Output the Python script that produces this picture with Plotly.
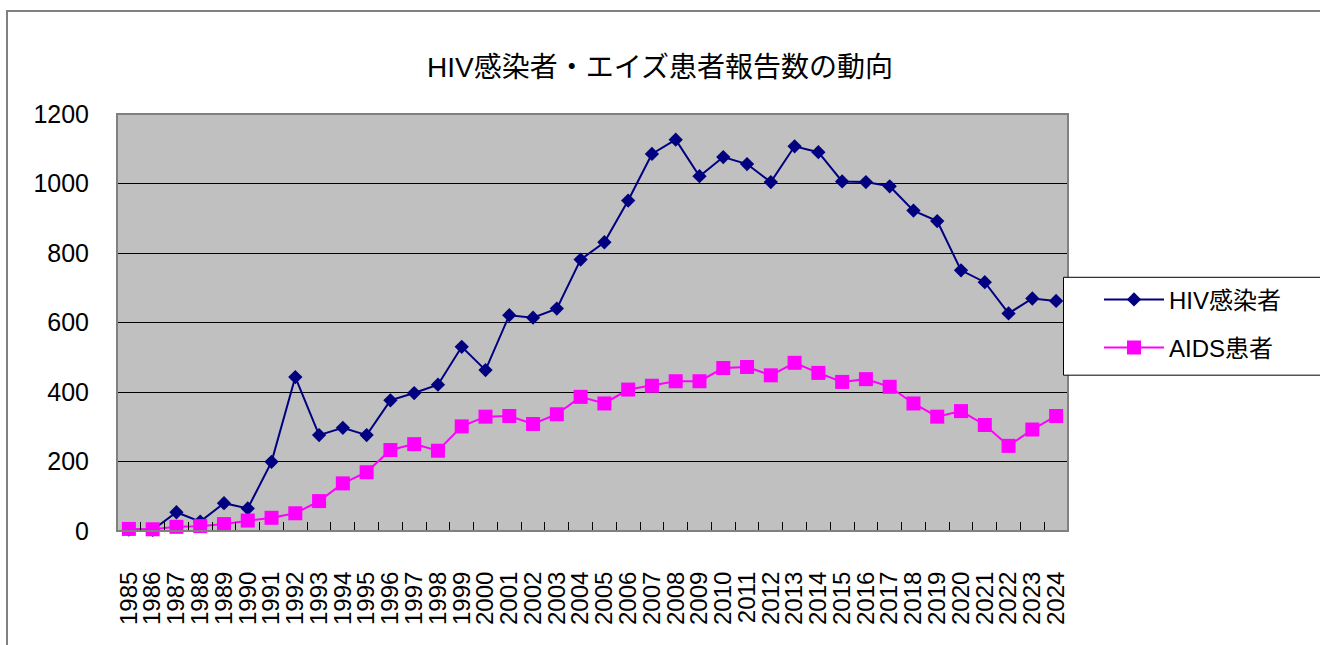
import plotly.graph_objects as go

years = [str(y) for y in range(1985, 2025)]
hiv = [4, 3, 54, 27, 80, 65, 199, 443, 276, 297, 276, 376, 397, 421, 530, 463,
       621, 614, 640, 781, 831, 951, 1085, 1126, 1021, 1076, 1056, 1004, 1107, 1090,
       1006, 1004, 992, 922, 892, 750, 716, 626, 669, 662]
aids = [6, 5, 12, 14, 20, 30, 38, 51, 86, 137, 169, 233, 250, 231, 301, 329,
        331, 308, 336, 386, 367, 407, 418, 431, 431, 469, 472, 448, 484, 455,
        429, 437, 415, 367, 329, 345, 305, 245, 292, 331]

FONT = "Arial, Liberation Sans, Noto Sans CJK JP, sans-serif"

fig = go.Figure()
fig.add_trace(go.Scatter(
    x=years, y=hiv, name="HIV感染者", mode="lines+markers", legendgroup="a",
    line=dict(color="#000080", width=2),
    marker=dict(symbol="diamond", size=11, color="#000080"),
    cliponaxis=False))
fig.add_trace(go.Scatter(
    x=years, y=aids, name="AIDS患者", mode="lines+markers", legendgroup="b",
    line=dict(color="#FF00FF", width=2),
    marker=dict(symbol="square", size=14, color="#FF00FF"),
    cliponaxis=False))

L, R, T, B = 117, 1068, 113.5, 531
W, H = 1320, 645
pw, ph = R - L, B - T

def px(x):
    return (x - L) / pw

def py(y):
    return (B - y) / ph

fig.update_layout(
    width=W, height=H,
    margin=dict(l=L, r=W - R, t=T, b=H - B, pad=0),
    paper_bgcolor="white",
    plot_bgcolor="#C0C0C0",
    font=dict(family=FONT, color="black", size=22),
    title=dict(text="HIV感染者・エイズ患者報告数の動向", x=0.5, xref="container",
               xanchor="center", y=1 - 67 / H, yref="container", yanchor="middle",
               font=dict(size=28, family=FONT, color="black")),
    showlegend=True,
    legend=dict(x=px(1099), y=py(277), xanchor="left", yanchor="top",
                bgcolor="rgba(0,0,0,0)", borderwidth=0,
                font=dict(size=24, family=FONT, color="black"),
                tracegroupgap=14, itemwidth=60),
    xaxis=dict(type="category", range=[-0.5, len(years) - 0.5],
               tickmode="array", tickvals=years, ticktext=years,
               tickangle=-90, tickfont=dict(size=24, family=FONT),
               ticks="inside", tickson="boundaries", ticklen=9, tickcolor="black",
               tickwidth=1, showgrid=False, showline=True, linecolor="black",
               linewidth=1, ticklabelstandoff=30, zeroline=False),
    yaxis=dict(range=[0, 1200], dtick=200, tickfont=dict(size=25, family=FONT),
               showgrid=True, gridcolor="black", gridwidth=1, ticks="",
               showline=True, linecolor="black", linewidth=1,
               ticklabelstandoff=22, zeroline=False),
    shapes=[
        dict(type="rect", xref="paper", yref="paper", x0=0, x1=1, y0=0, y1=1,
             line=dict(color="#808080", width=2), layer="above"),
        dict(type="rect", xref="paper", yref="paper",
             x0=px(7), x1=px(1330), y0=py(660), y1=py(10.5),
             line=dict(color="#808080", width=2), layer="above"),
        dict(type="rect", xref="paper", yref="paper",
             x0=px(1063.5), x1=px(1330), y0=py(375), y1=py(277),
             line=dict(color="black", width=1), fillcolor="white", layer="above"),
    ],
)

fig.write_html("out.html", config={"displayModeBar": False},
               post_script="document.body.style.margin='0px';")
